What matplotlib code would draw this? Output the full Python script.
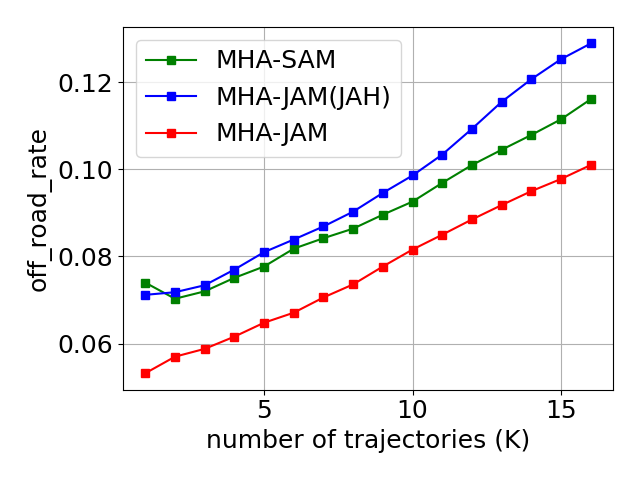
import matplotlib
matplotlib.use("Agg")
import matplotlib.pyplot as plt

K = list(range(1, 17))
sam = [0.0740, 0.0703, 0.0720, 0.0751, 0.0777, 0.0818, 0.0842, 0.0864,
       0.0896, 0.0926, 0.0969, 0.1010, 0.1045, 0.1079, 0.1115, 0.1161]
jam_jah = [0.0712, 0.0718, 0.0734, 0.0770, 0.0810, 0.0839, 0.0869, 0.0903,
           0.0946, 0.0986, 0.1034, 0.1093, 0.1155, 0.1207, 0.1253, 0.1289]
jam = [0.0532, 0.0570, 0.0588, 0.0616, 0.0648, 0.0671, 0.0706, 0.0736,
       0.0777, 0.0816, 0.0850, 0.0885, 0.0918, 0.0950, 0.0978, 0.1010]

plt.rcParams['font.size'] = 18
fig, ax = plt.subplots(figsize=(6.4, 4.8), dpi=100)
ax.plot(K, sam, 's-', color='green', label='MHA-SAM')
ax.plot(K, jam_jah, 's-', color='blue', label='MHA-JAM(JAH)')
ax.plot(K, jam, 's-', color='red', label='MHA-JAM')
ax.set_xlabel('number of trajectories (K)')
ax.set_ylabel('off_road_rate')
ax.grid(True)
ax.legend(loc='upper left')
fig.tight_layout()
fig.savefig('out.png')
